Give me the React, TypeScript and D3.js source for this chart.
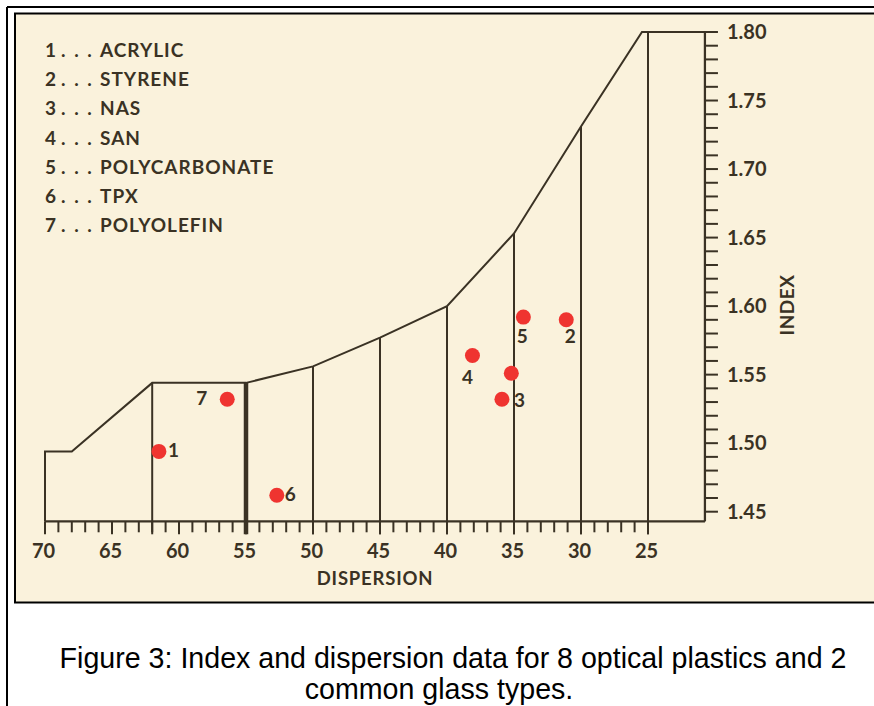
import React from "react";
import * as d3 from "d3";

// legend entries (numbered 1..7)
const legendNames = [
  "ACRYLIC",
  "STYRENE",
  "NAS",
  "SAN",
  "POLYCARBONATE",
  "TPX",
  "POLYOLEFIN",
];

// plotted plastics (last one carries no number)
const pointLabels = ["1", "2", "3", "4", "5", "6", "7", ""];
const pointDispersion = [61.5, 31.1, 35.9, 38.1, 34.3, 52.7, 56.4, 35.2];
const pointIndex = [1.494, 1.59, 1.532, 1.564, 1.592, 1.462, 1.532, 1.551];

// glass map outline, left to right along the top edge
const outlineDispersion = [70, 70, 68, 62, 55, 50, 45, 40, 35, 30, 25.45, 20.75, 20.75];
const outlineIndex = [1.443, 1.494, 1.494, 1.544, 1.544, 1.556, 1.577, 1.6, 1.653, 1.731, 1.8, 1.8, 1.443];

const dividerDispersion = [62, 55, 50, 45, 40, 35, 30, 25];
const dispersionLabels = [70, 65, 60, 55, 50, 45, 40, 35, 30, 25];
const indexLabels = [1.45, 1.5, 1.55, 1.6, 1.65, 1.7, 1.75, 1.8];
const baseIndex = 1.443;

const W = 874;
const H = 706;
const ink = "#3a3224";
const paper = "#faf2dc";
const dotRed = "#ef3430";
const font = "Lato, 'Open Sans', sans-serif";

// where each number sits next to its dot
const labelPlace: Record<string, { dx: number; dy: number; anchor: string }> = {
  "1": { dx: 9, dy: 6, anchor: "start" },
  "2": { dx: 4, dy: 23, anchor: "middle" },
  "3": { dx: 12, dy: 8, anchor: "start" },
  "4": { dx: -5, dy: 29, anchor: "middle" },
  "5": { dx: -1, dy: 26, anchor: "middle" },
  "6": { dx: 8, dy: 6, anchor: "start" },
  "7": { dx: -20, dy: 6, anchor: "end" },
};

const x = d3.scaleLinear().domain([70, 25]).range([45, 648]);
const y = d3.scaleLinear().domain([1.45, 1.8]).range([511.7, 32]);

// index of the outline's top edge at a given dispersion
const topEdge = outlineDispersion.slice(1, 12).map((d, i) => [d, outlineIndex[i + 1]]);
const topAt = (d: number) => {
  for (let i = 0; i < topEdge.length - 1; i++) {
    const [d0, n0] = topEdge[i];
    const [d1, n1] = topEdge[i + 1];
    if (d <= d0 && d >= d1 && d0 !== d1) {
      return n0 + ((d - d0) / (d1 - d0)) * (n1 - n0);
    }
  }
  return topEdge[topEdge.length - 1][1];
};

export default function App() {
  const baseY = y(baseIndex);
  const axisX = x(20.75);

  const outline = d3
    .line<number>()
    .x((i) => x(outlineDispersion[i]))
    .y((i) => y(outlineIndex[i]))(d3.range(outlineDispersion.length));

  const minorX = d3.range(25, 71);
  const minorY = d3.range(145, 181).map((v) => v / 100);

  return (
    <svg
      width={W}
      height={H}
      style={{ position: "fixed", left: 0, top: 0, background: "#fff" }}
    >
      {/* outer frame */}
      <line x1={7} y1={7} x2={W} y2={7} stroke="#000" strokeWidth={2} />
      <line x1={7} y1={7} x2={7} y2={H} stroke="#000" strokeWidth={2} />
      {/* inner frame */}
      <rect x={15} y={13.5} width={W} height={589} fill={paper} stroke="#000" strokeWidth={2} />

      {/* legend */}
      <g fontFamily={font} fontWeight={700} fontSize={19} fill={ink}>
        {legendNames.map((name, i) => (
          <g key={name} transform={`translate(0, ${57 + i * 29.2})`}>
            <text x={45}>{i + 1}</text>
            <text x={61} letterSpacing={2}>. . .</text>
            <text x={100} letterSpacing={1}>{name}</text>
          </g>
        ))}
      </g>

      {/* glass map outline */}
      <path d={outline || ""} fill="none" stroke={ink} strokeWidth={2} strokeLinejoin="miter" />
      {dividerDispersion.map((d) => (
        <line
          key={d}
          x1={x(d)}
          x2={x(d)}
          y1={y(topAt(d))}
          y2={baseY + 13}
          stroke={ink}
          strokeWidth={d === 55 ? 4.5 : 2}
        />
      ))}

      {/* dispersion axis */}
      <line x1={x(70)} x2={axisX} y1={baseY} y2={baseY} stroke={ink} strokeWidth={2.2} />
      {minorX.map((d) => (
        <line
          key={d}
          x1={x(d)}
          x2={x(d)}
          y1={baseY}
          y2={baseY + (d % 5 === 0 ? 13 : 11)}
          stroke={ink}
          strokeWidth={2}
        />
      ))}
      <g fontFamily={font} fontWeight={700} fontSize={20} fill={ink} textAnchor="middle">
        {dispersionLabels.map((d) => (
          <text key={d} x={x(d) - 1.5} y={558}>
            {d}
          </text>
        ))}
      </g>
      <text
        x={375}
        y={585}
        fontFamily={font}
        fontWeight={700}
        fontSize={18.5}
        letterSpacing={0.8}
        fill={ink}
        textAnchor="middle"
      >
        DISPERSION
      </text>

      {/* index axis */}
      <line x1={axisX} x2={axisX} y1={y(1.8)} y2={baseY} stroke={ink} strokeWidth={2.2} />
      {minorY.map((n) => (
        <line key={n} x1={axisX} x2={axisX + 13} y1={y(n)} y2={y(n)} stroke={ink} strokeWidth={2} />
      ))}
      <g fontFamily={font} fontWeight={700} fontSize={20} fill={ink}>
        {indexLabels.map((n) => (
          <text key={n} x={727} y={y(n)} dy="0.36em">
            {n.toFixed(2)}
          </text>
        ))}
      </g>
      <text
        transform="translate(794, 305) rotate(-90)"
        fontFamily={font}
        fontWeight={700}
        fontSize={19}
        letterSpacing={0.5}
        fill={ink}
        textAnchor="middle"
      >
        INDEX
      </text>

      {/* plastics */}
      {pointLabels.map((lab, i) => {
        const cx = x(pointDispersion[i]);
        const cy = y(pointIndex[i]);
        const p = labelPlace[lab];
        return (
          <g key={i}>
            <circle cx={cx} cy={cy} r={7.5} fill={dotRed} />
            {p && (
              <text
                x={cx + p.dx}
                y={cy + p.dy}
                textAnchor={p.anchor}
                fontFamily={font}
                fontWeight={700}
                fontSize={19}
                fill={ink}
              >
                {lab}
              </text>
            )}
          </g>
        );
      })}

      {/* caption */}
      <g fontFamily="'Liberation Sans', Arial, sans-serif" fontSize={28.6} fill="#000" textAnchor="middle">
        <text x={453} y={668}>
          Figure 3: Index and dispersion data for 8 optical plastics and 2
        </text>
        <text x={439} y={699}>
          common glass types.
        </text>
      </g>
    </svg>
  );
}
